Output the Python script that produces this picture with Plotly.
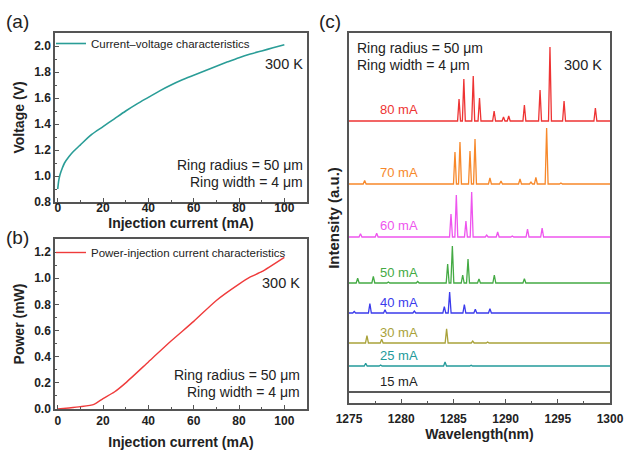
import plotly.graph_objects as go

# ---------------- data ----------------
# (a) current-voltage
iv_current = [0, 0.5, 1, 2, 3, 5, 7, 10, 15, 20, 25, 30, 35, 40, 45, 50, 55, 60, 65, 70, 75, 80, 85, 90, 95, 100]
iv_voltage = [0.9, 0.97, 1.01, 1.06, 1.10, 1.15, 1.19, 1.24, 1.32, 1.38, 1.44, 1.50, 1.555, 1.605, 1.655, 1.70,
              1.74, 1.775, 1.81, 1.845, 1.878, 1.91, 1.938, 1.962, 1.986, 2.01]

# (b) power-injection current
pi_current = [0, 5, 10, 16, 20, 25, 30, 40, 50, 60, 70, 80, 85, 90, 100]
pi_power = [0.0, 0.008, 0.018, 0.036, 0.08, 0.13, 0.20, 0.36, 0.52, 0.67, 0.83, 0.955, 1.01, 1.05, 1.16]

# (c) spectra: currents, vertical offsets, colours, peaks (wavelength nm, height a.u.)
spec_labels = ["80 mA", "70 mA", "60 mA", "50 mA", "40 mA", "30 mA", "25 mA", "15 mA"]
spec_offsets = [282, 219, 166, 120, 90, 60, 37, 11]
spec_colors = ["#ee3333", "#f7882a", "#ee55ee", "#44aa44", "#3b3bec", "#a9a23a", "#239a9a", "#222222"]
spec_peaks = [
    [(1285.54, 22), (1286.0, 42), (1286.9, 45), (1287.5, 23), (1288.9, 10), (1289.8, 4), (1290.3, 5),
     (1291.8, 16), (1293.3, 31), (1294.25, 74), (1295.6, 20), (1298.6, 13)],
    [(1276.5, 3.5), (1285.15, 32), (1285.63, 42), (1286.59, 33), (1287.07, 45), (1288.5, 6), (1289.56, 3),
     (1291.38, 5), (1292.43, 2), (1292.9, 6.5), (1293.93, 56), (1295.3, 1)],
    [(1276.1, 3.3), (1277.65, 3.7), (1284.77, 23), (1285.28, 42), (1286.2, 16), (1286.75, 45), (1288.19, 2),
     (1289.24, 5), (1290.64, 1), (1292.1, 8), (1293.5, 9)],
    [(1275.83, 4.7), (1277.33, 6.7), (1278.77, 1), (1281.58, 1.5), (1284.45, 19), (1284.9, 37), (1285.89, 8),
     (1286.4, 24), (1287.45, 4), (1288.92, 8), (1291.8, 4.3)],
    [(1275.5, 1.5), (1277.0, 9.3), (1278.45, 3.3), (1281.26, 2), (1284.13, 6.3), (1284.64, 21), (1286.05, 8.3),
     (1287.1, 3.7), (1288.5, 4.3)],
    [(1276.72, 7.3), (1278.13, 3.7), (1284.35, 14.3), (1286.85, 2), (1288.28, 1)],
    [(1276.6, 2.7), (1278.03, 1), (1281.0, 0.5), (1284.2, 4), (1286.7, 0.7)],
    [(1276.5, 0.5)],
]
wl_range = [1275, 1300]

FONT = "Liberation Sans"
AXC = "#555555"
TXT = "#222222"

fig = go.Figure()

# (a)
fig.add_trace(go.Scatter(x=iv_current, y=iv_voltage, mode="lines", line=dict(color="#2a9d97", width=1.6, shape="spline", smoothing=0.8),
                         name="Current\u2013voltage characteristics", xaxis="x", yaxis="y", legend="legend"))
# (b)
fig.add_trace(go.Scatter(x=pi_current, y=pi_power, mode="lines", line=dict(color="#ef3b3b", width=1.4, shape="spline", smoothing=0.6),
                         name="Power-injection current characteristics", xaxis="x2", yaxis="y2", legend="legend2"))

# (c)
half_w = 0.14
annotations = []
for lab, off, col, peaks in zip(spec_labels, spec_offsets, spec_colors, spec_peaks):
    xs = [wl_range[0]]
    ys = [off]
    for c, h in sorted(peaks):
        xs += [c - half_w, c, c + half_w]
        ys += [off, off + h, off]
    xs.append(wl_range[1])
    ys.append(off)
    fig.add_trace(go.Scatter(x=xs, y=ys, mode="lines", line=dict(color=col, width=1.3),
                             showlegend=False, xaxis="x3", yaxis="y3"))
    annotations.append(dict(x=1279.8, y=off + 11, xref="x3", yref="y3", text=lab, showarrow=False,
                            font=dict(family=FONT, size=13, color=col)))

TICKF = dict(family=FONT, size=12, color=TXT, weight="bold")
TITLEF = dict(family=FONT, size=14, color=TXT, weight="bold")

def xa(domain, rng, dtick, minor, title, anchor, standoff, lstand=0):
    return dict(domain=domain, range=rng, anchor=anchor, showline=True, linecolor=AXC, linewidth=1.5, mirror=True,
                ticks="inside", ticklen=4, tickwidth=1.2, tickcolor=AXC, dtick=dtick, tick0=0 if dtick != 5 else 1275,
                minor=dict(dtick=minor, ticks="inside", ticklen=2.5, tickcolor=AXC, tickwidth=1),
                showgrid=False, zeroline=False, automargin=False, ticklabelstandoff=lstand,
                tickfont=TICKF, title=dict(text=title, font=TITLEF, standoff=standoff))

def ya(domain, rng, anchor, title):
    return dict(domain=domain, range=rng, anchor=anchor, showline=True, linecolor=AXC, linewidth=1.5,
                mirror=True, ticks="inside", ticklen=4, tickwidth=1.2, tickcolor=AXC, dtick=0.2, tick0=0, tickformat=".1f",
                minor=dict(dtick=0.1, ticks="inside", ticklen=2.5, tickcolor=AXC), showgrid=False, zeroline=False,
                automargin=False, tickfont=TICKF, title=dict(text=title, font=TITLEF, standoff=6))

fig.update_layout(
    width=626, height=452, margin=dict(l=0, r=0, t=0, b=0),
    paper_bgcolor="white", plot_bgcolor="white",
    xaxis=xa([55/626, 307/626], [-1.2, 110], 20, 10, "Injection current (mA)", "y", 0, -6),
    yaxis=ya([1-202/452, 1-33/452], [0.8, 2.1], "x", "Voltage (V)"),
    xaxis2=xa([55/626, 307/626], [-1.2, 110], 20, 10, "Injection current (mA)", "y2", 10),
    yaxis2=ya([1-409/452, 1-239/452], [0, 1.3], "x2", "Power (mW)"),
    xaxis3=xa([349/626, 610/626], wl_range, 5, 2.5, "Wavelength(nm)", "y3", 2, 4),
    yaxis3=dict(domain=[1-403/452, 1-33/452], range=[0, 370], anchor="x3", showline=True, linecolor=AXC, linewidth=1.5,
                mirror=True, ticks="", showticklabels=False, showgrid=False, zeroline=False, automargin=False,
                title=dict(text="Intensity (a.u.)", font=dict(family=FONT, size=15, color=TXT, weight="bold"), standoff=4)),
    legend=dict(x=51/626, y=1-29/452, xanchor="left", yanchor="top", bgcolor="rgba(0,0,0,0)", itemwidth=30,
                font=dict(family=FONT, size=11.5, color=TXT), tracegroupgap=0),
    legend2=dict(x=51/626, y=1-238/452, xanchor="left", yanchor="top", bgcolor="rgba(0,0,0,0)", itemwidth=30,
                 font=dict(family=FONT, size=11.5, color=TXT), tracegroupgap=0),
)

def txt(x, y, s, xanchor="center", size=14, color=TXT):
    return dict(x=x/626, y=1-y/452, xref="paper", yref="paper", text=s, showarrow=False, xanchor=xanchor,
                yanchor="middle", font=dict(family=FONT, size=size, color=color))

annotations += [
    txt(4, 21, "(a)", "left", 19),
    txt(4, 237, "(b)", "left", 19),
    txt(317, 21, "(c)", "left", 19),
    txt(305, 64, "300 K", "right", 14.5),
    txt(305, 165, "Ring radius = 50 \u03bcm", "right"),
    txt(305, 182, "Ring width = 4 \u03bcm", "right"),
    txt(302, 283, "300 K", "right", 14.5),
    txt(302, 375, "Ring radius = 50 \u03bcm", "right"),
    txt(302, 392, "Ring width = 4 \u03bcm", "right"),
    txt(355, 48, "Ring radius = 50 \u03bcm", "left"),
    txt(355, 65, "Ring width = 4 \u03bcm", "left"),
    txt(604, 65, "300 K", "right", 14.5),
]
fig.update_layout(annotations=annotations)

fig.write_html("out.html", config={"displayModeBar": False},
               post_script="document.body.style.margin='0';document.body.style.overflow='hidden';")
